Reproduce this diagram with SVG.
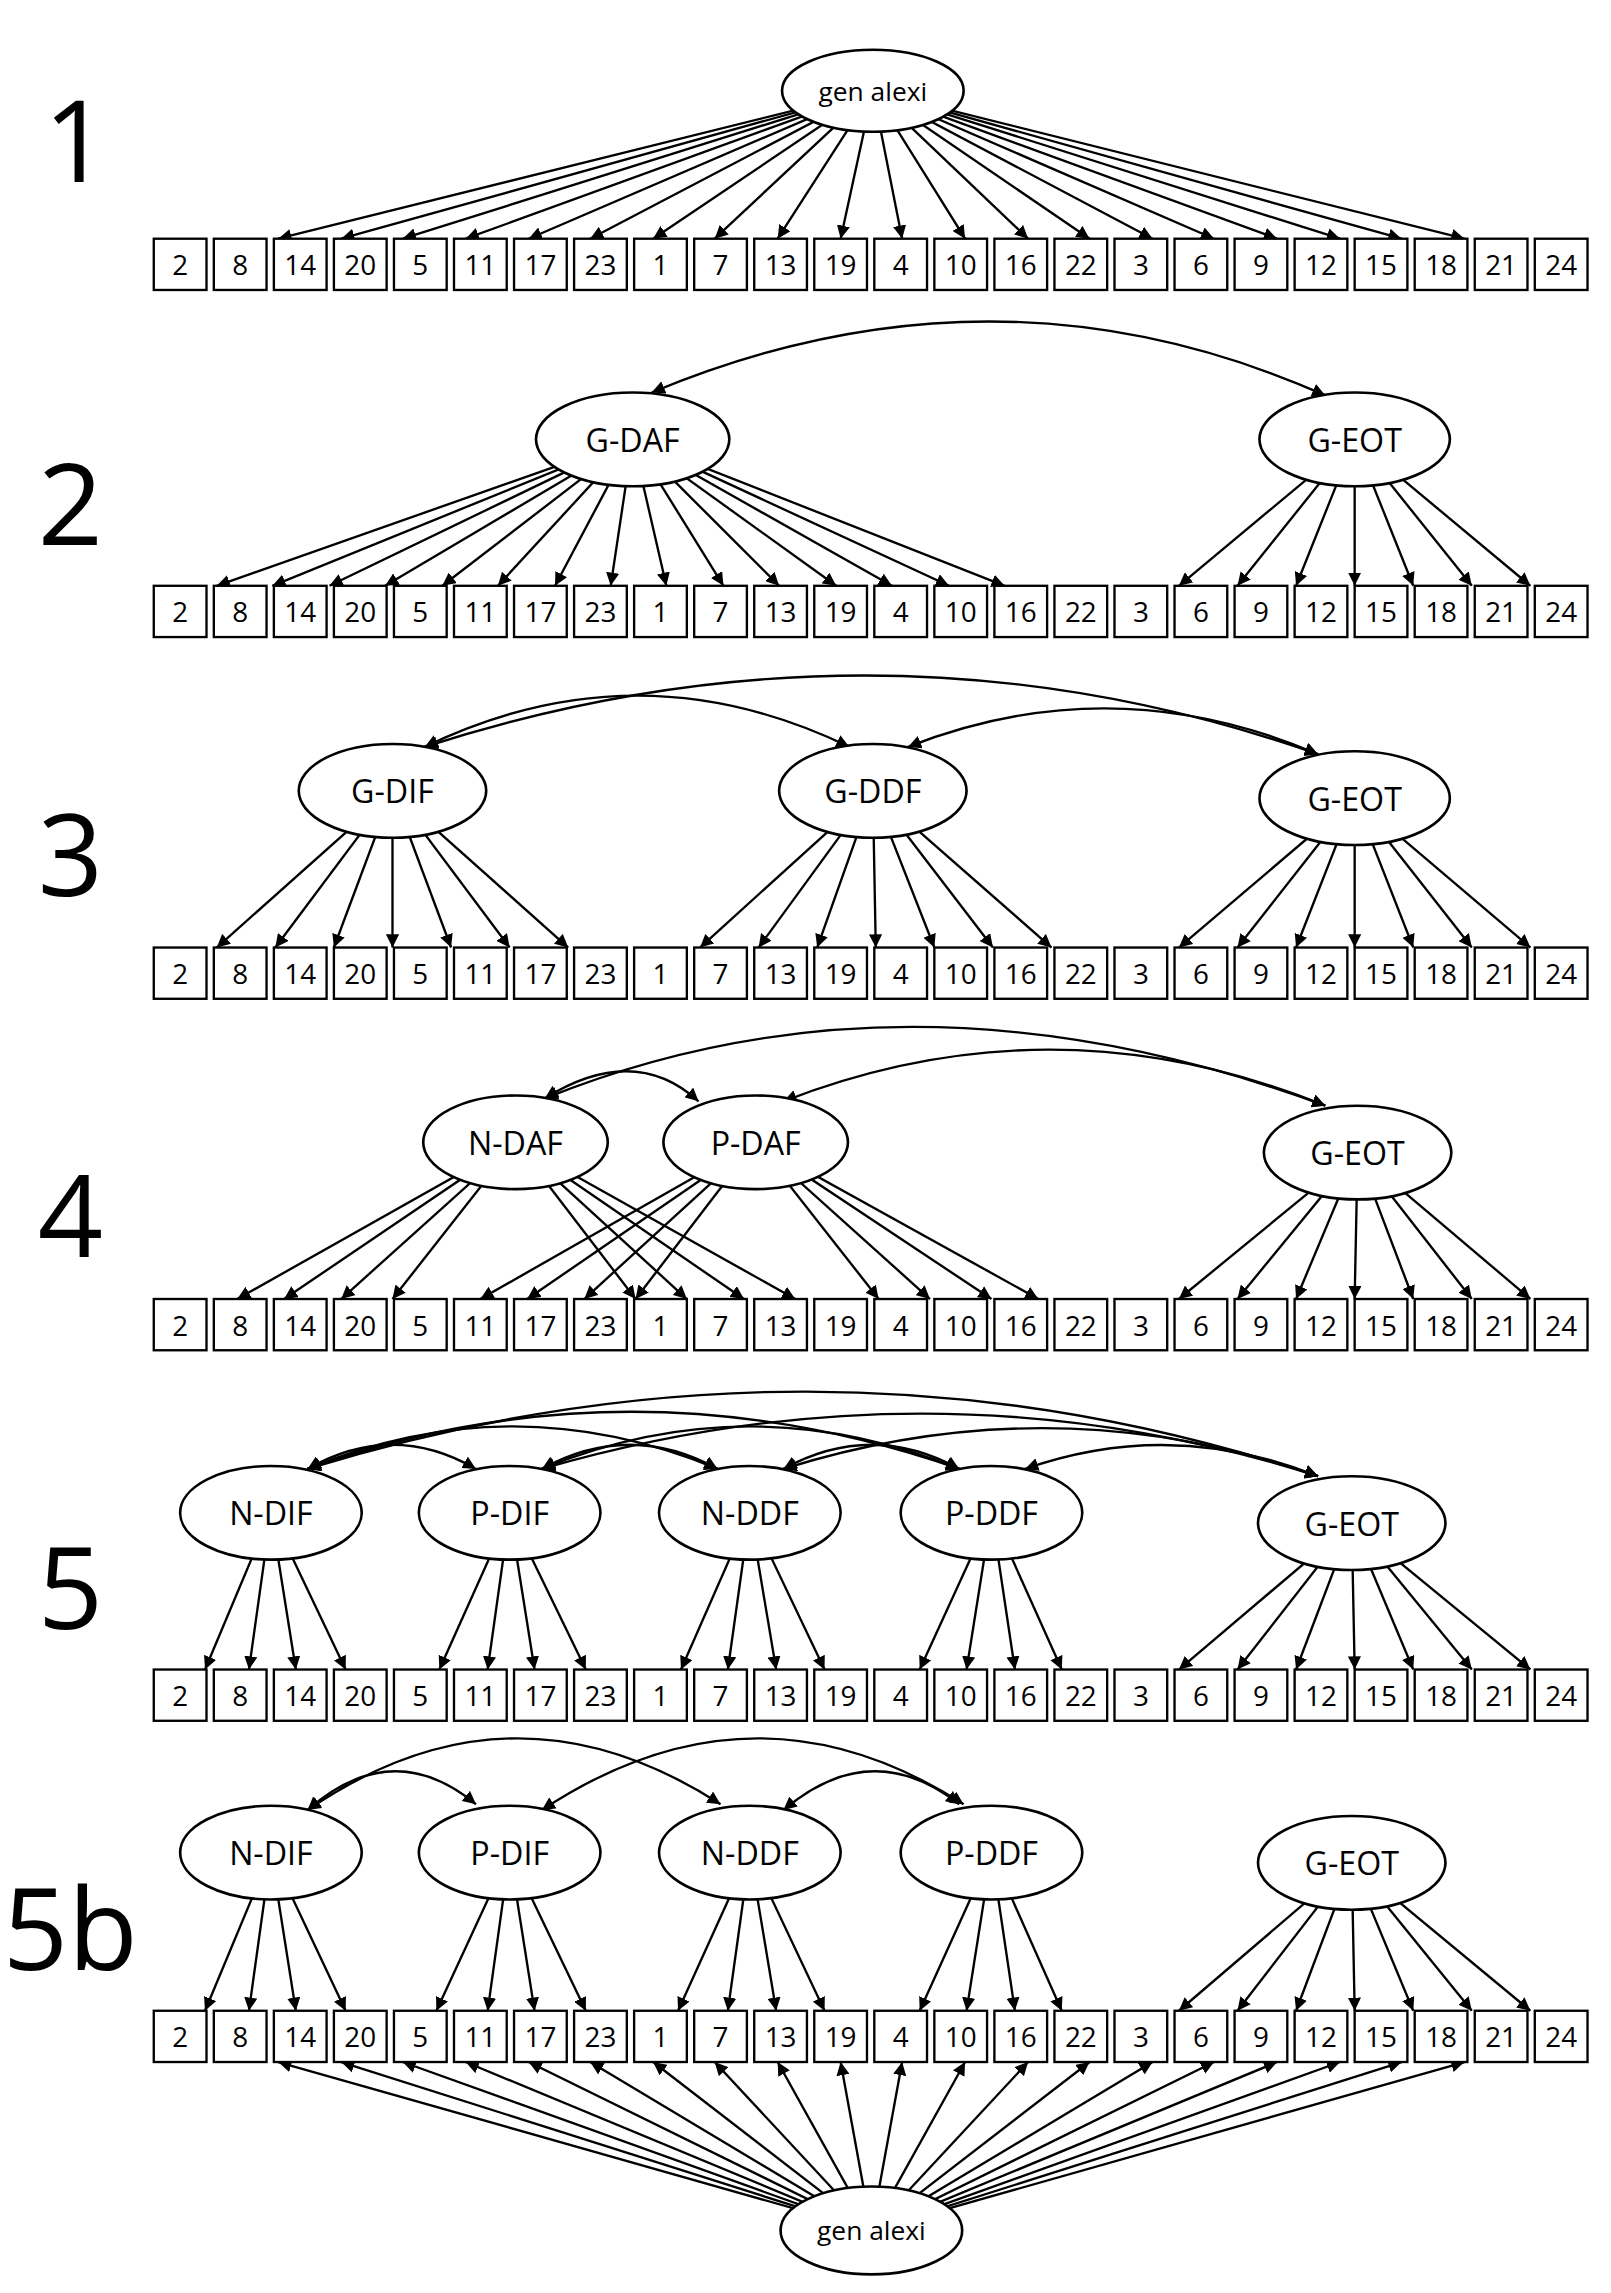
<svg xmlns="http://www.w3.org/2000/svg" width="1611" height="2293" viewBox="0 0 1611 2293">
<defs>
<marker id="ah" viewBox="0 0 10 10" refX="10" refY="5" markerWidth="9" markerHeight="9" markerUnits="userSpaceOnUse" orient="auto-start-reverse"><path d="M0,0 L10,5 L0,10 z" fill="#000"/></marker>
</defs>
<style>
.c line,.c path{stroke:#000;stroke-width:1.6;fill:none;marker-end:url(#ah)}
.c path{marker-start:url(#ah)}
.n ellipse{fill:#fff;stroke:#000;stroke-width:1.8}
.n rect{fill:#fff;stroke:#000;stroke-width:1.6}
.n text{font-family:"Open Sans","Liberation Sans",sans-serif;text-anchor:middle;dominant-baseline:central;fill:#000}
.b{font-size:19px}.e{font-size:22px}.g{font-size:18px}
.big{font-family:"Open Sans","Liberation Sans",sans-serif;font-size:78px;fill:#000;text-anchor:middle}
</style>
<rect width="1611" height="2293" fill="#fff"/>
<g transform="scale(1.4645)">
<text class="big" x="52" y="124">1</text>
<text class="big" x="48" y="372">2</text>
<text class="big" x="48" y="612">3</text>
<text class="big" x="48" y="858">4</text>
<text class="big" x="48" y="1112">5</text>
<text class="big" x="48" y="1345">5b</text>
<g id="connectors" class="c">
<!-- row1 -->
<line x1="596" y1="62" x2="190" y2="163"/><line x1="596" y1="62" x2="233" y2="163"/><line x1="596" y1="62" x2="275" y2="163"/><line x1="596" y1="62" x2="318" y2="163"/><line x1="596" y1="62" x2="361" y2="163"/><line x1="596" y1="62" x2="403" y2="163"/><line x1="596" y1="62" x2="446" y2="163"/><line x1="596" y1="62" x2="488" y2="163"/><line x1="596" y1="62" x2="531" y2="163"/><line x1="596" y1="62" x2="574" y2="163"/><line x1="596" y1="62" x2="616" y2="163"/><line x1="596" y1="62" x2="659" y2="163"/><line x1="596" y1="62" x2="702" y2="163"/><line x1="596" y1="62" x2="744" y2="163"/><line x1="596" y1="62" x2="787" y2="163"/><line x1="596" y1="62" x2="829" y2="163"/><line x1="596" y1="62" x2="872" y2="163"/><line x1="596" y1="62" x2="915" y2="163"/><line x1="596" y1="62" x2="957" y2="163"/><line x1="596" y1="62" x2="1000" y2="163"/>
<!-- row2 -->
<line x1="432" y1="300" x2="148" y2="400"/><line x1="432" y1="300" x2="186" y2="400"/><line x1="432" y1="300" x2="225" y2="400"/><line x1="432" y1="300" x2="263" y2="400"/><line x1="432" y1="300" x2="302" y2="400"/><line x1="432" y1="300" x2="340" y2="400"/><line x1="432" y1="300" x2="379" y2="400"/><line x1="432" y1="300" x2="417" y2="400"/><line x1="432" y1="300" x2="455" y2="400"/><line x1="432" y1="300" x2="494" y2="400"/><line x1="432" y1="300" x2="532" y2="400"/><line x1="432" y1="300" x2="571" y2="400"/><line x1="432" y1="300" x2="609" y2="400"/><line x1="432" y1="300" x2="648" y2="400"/><line x1="432" y1="300" x2="686" y2="400"/>
<line x1="925" y1="300" x2="805" y2="400"/><line x1="925" y1="300" x2="845" y2="400"/><line x1="925" y1="300" x2="885" y2="400"/><line x1="925" y1="300" x2="925" y2="400"/><line x1="925" y1="300" x2="965" y2="400"/><line x1="925" y1="300" x2="1005" y2="400"/><line x1="925" y1="300" x2="1045" y2="400"/>
<path d="M445,268 Q680,170 905,270"/>
<!-- row3 -->
<line x1="268" y1="540" x2="148" y2="647"/><line x1="268" y1="540" x2="188" y2="647"/><line x1="268" y1="540" x2="228" y2="647"/><line x1="268" y1="540" x2="268" y2="647"/><line x1="268" y1="540" x2="308" y2="647"/><line x1="268" y1="540" x2="348" y2="647"/><line x1="268" y1="540" x2="388" y2="647"/>
<line x1="596" y1="540" x2="478" y2="647"/><line x1="596" y1="540" x2="518" y2="647"/><line x1="596" y1="540" x2="558" y2="647"/><line x1="596" y1="540" x2="598" y2="647"/><line x1="596" y1="540" x2="638" y2="647"/><line x1="596" y1="540" x2="678" y2="647"/><line x1="596" y1="540" x2="718" y2="647"/>
<line x1="925" y1="545" x2="805" y2="647"/><line x1="925" y1="545" x2="845" y2="647"/><line x1="925" y1="545" x2="885" y2="647"/><line x1="925" y1="545" x2="925" y2="647"/><line x1="925" y1="545" x2="965" y2="647"/><line x1="925" y1="545" x2="1005" y2="647"/><line x1="925" y1="545" x2="1045" y2="647"/>
<path d="M290,510 Q435,440 580,510"/>
<path d="M290,510 Q600,410 900,515"/>
<path d="M620,510 Q760,455 900,515"/>
<!-- row4 -->
<line x1="352" y1="780" x2="162" y2="887"/><line x1="352" y1="780" x2="194" y2="887"/><line x1="352" y1="780" x2="233" y2="887"/><line x1="352" y1="780" x2="268" y2="887"/>
<line x1="352" y1="780" x2="434" y2="887"/><line x1="352" y1="780" x2="469" y2="887"/><line x1="352" y1="780" x2="508" y2="887"/><line x1="352" y1="780" x2="543" y2="887"/>
<line x1="516" y1="780" x2="328" y2="887"/><line x1="516" y1="780" x2="360" y2="887"/><line x1="516" y1="780" x2="399" y2="887"/><line x1="516" y1="780" x2="434" y2="887"/>
<line x1="516" y1="780" x2="600" y2="887"/><line x1="516" y1="780" x2="635" y2="887"/><line x1="516" y1="780" x2="677" y2="887"/><line x1="516" y1="780" x2="709" y2="887"/>
<line x1="927" y1="787" x2="805" y2="887"/><line x1="927" y1="787" x2="845" y2="887"/><line x1="927" y1="787" x2="885" y2="887"/><line x1="927" y1="787" x2="925" y2="887"/><line x1="927" y1="787" x2="965" y2="887"/><line x1="927" y1="787" x2="1005" y2="887"/><line x1="927" y1="787" x2="1045" y2="887"/>
<path d="M372,750 Q433,712 477,752"/>
<path d="M372,750 Q620,650 905,755"/>
<path d="M535,752 Q720,680 905,755"/>
<!-- row5 -->
<line x1="185" y1="1033" x2="140" y2="1140"/><line x1="185" y1="1033" x2="170" y2="1140"/><line x1="185" y1="1033" x2="202" y2="1140"/><line x1="185" y1="1033" x2="236" y2="1140"/>
<line x1="348" y1="1033" x2="300" y2="1140"/><line x1="348" y1="1033" x2="333" y2="1140"/><line x1="348" y1="1033" x2="365" y2="1140"/><line x1="348" y1="1033" x2="400" y2="1140"/>
<line x1="512" y1="1033" x2="465" y2="1140"/><line x1="512" y1="1033" x2="497" y2="1140"/><line x1="512" y1="1033" x2="530" y2="1140"/><line x1="512" y1="1033" x2="563" y2="1140"/>
<line x1="677" y1="1033" x2="628" y2="1140"/><line x1="677" y1="1033" x2="660" y2="1140"/><line x1="677" y1="1033" x2="693" y2="1140"/><line x1="677" y1="1033" x2="725" y2="1140"/>
<line x1="923" y1="1040" x2="805" y2="1140"/><line x1="923" y1="1040" x2="845" y2="1140"/><line x1="923" y1="1040" x2="885" y2="1140"/><line x1="923" y1="1040" x2="925" y2="1140"/><line x1="923" y1="1040" x2="965" y2="1140"/><line x1="923" y1="1040" x2="1005" y2="1140"/><line x1="923" y1="1040" x2="1045" y2="1140"/>
<path d="M210,1003 Q268,970 325,1003"/>
<path d="M210,1003 Q350,945 490,1003"/>
<path d="M210,1003 Q430,925 655,1003"/>
<path d="M210,1003 Q560,895 900,1008"/>
<path d="M370,1003 Q430,970 490,1003"/>
<path d="M370,1003 Q512,945 655,1003"/>
<path d="M370,1003 Q640,925 900,1008"/>
<path d="M535,1003 Q595,970 655,1003"/>
<path d="M535,1003 Q720,945 900,1008"/>
<path d="M700,1003 Q800,968 900,1008"/>
<!-- row5b -->
<line x1="185" y1="1265" x2="140" y2="1373"/><line x1="185" y1="1265" x2="170" y2="1373"/><line x1="185" y1="1265" x2="202" y2="1373"/><line x1="185" y1="1265" x2="236" y2="1373"/>
<line x1="348" y1="1265" x2="298" y2="1373"/><line x1="348" y1="1265" x2="333" y2="1373"/><line x1="348" y1="1265" x2="365" y2="1373"/><line x1="348" y1="1265" x2="400" y2="1373"/>
<line x1="512" y1="1265" x2="463" y2="1373"/><line x1="512" y1="1265" x2="497" y2="1373"/><line x1="512" y1="1265" x2="530" y2="1373"/><line x1="512" y1="1265" x2="563" y2="1373"/>
<line x1="677" y1="1265" x2="628" y2="1373"/><line x1="677" y1="1265" x2="660" y2="1373"/><line x1="677" y1="1265" x2="693" y2="1373"/><line x1="677" y1="1265" x2="725" y2="1373"/>
<line x1="923" y1="1272" x2="805" y2="1373"/><line x1="923" y1="1272" x2="845" y2="1373"/><line x1="923" y1="1272" x2="885" y2="1373"/><line x1="923" y1="1272" x2="925" y2="1373"/><line x1="923" y1="1272" x2="965" y2="1373"/><line x1="923" y1="1272" x2="1005" y2="1373"/><line x1="923" y1="1272" x2="1045" y2="1373"/>
<path d="M210,1236 Q268,1185 325,1232"/>
<path d="M210,1236 Q350,1140 492,1232"/>
<path d="M370,1236 Q515,1140 658,1232"/>
<path d="M535,1236 Q595,1185 655,1232"/>
<line x1="595" y1="1523" x2="190" y2="1408"/><line x1="595" y1="1523" x2="233" y2="1408"/><line x1="595" y1="1523" x2="275" y2="1408"/><line x1="595" y1="1523" x2="318" y2="1408"/><line x1="595" y1="1523" x2="361" y2="1408"/><line x1="595" y1="1523" x2="403" y2="1408"/><line x1="595" y1="1523" x2="446" y2="1408"/><line x1="595" y1="1523" x2="488" y2="1408"/><line x1="595" y1="1523" x2="531" y2="1408"/><line x1="595" y1="1523" x2="574" y2="1408"/><line x1="595" y1="1523" x2="616" y2="1408"/><line x1="595" y1="1523" x2="659" y2="1408"/><line x1="595" y1="1523" x2="702" y2="1408"/><line x1="595" y1="1523" x2="744" y2="1408"/><line x1="595" y1="1523" x2="787" y2="1408"/><line x1="595" y1="1523" x2="829" y2="1408"/><line x1="595" y1="1523" x2="872" y2="1408"/><line x1="595" y1="1523" x2="915" y2="1408"/><line x1="595" y1="1523" x2="957" y2="1408"/><line x1="595" y1="1523" x2="1000" y2="1408"/>
</g>
<g class="n">
<g id="gen1"><ellipse cx="596" cy="62" rx="62" ry="28"/><text class="g" x="596" y="62">gen alexi</text></g>
<g id="r2-gdaf"><ellipse cx="432" cy="300" rx="66" ry="32"/><text class="e" x="432" y="300">G-DAF</text></g>
<g id="r2-geot"><ellipse cx="925" cy="300" rx="65" ry="32"/><text class="e" x="925" y="300">G-EOT</text></g>
<g id="r3-gdif"><ellipse cx="268" cy="540" rx="64" ry="32"/><text class="e" x="268" y="540">G-DIF</text></g>
<g id="r3-gddf"><ellipse cx="596" cy="540" rx="64" ry="32"/><text class="e" x="596" y="540">G-DDF</text></g>
<g id="r3-geot"><ellipse cx="925" cy="545" rx="65" ry="32"/><text class="e" x="925" y="545">G-EOT</text></g>
<g id="r4-ndaf"><ellipse cx="352" cy="780" rx="63" ry="32"/><text class="e" x="352" y="780">N-DAF</text></g>
<g id="r4-pdaf"><ellipse cx="516" cy="780" rx="63" ry="32"/><text class="e" x="516" y="780">P-DAF</text></g>
<g id="r4-geot"><ellipse cx="927" cy="787" rx="64" ry="32"/><text class="e" x="927" y="787">G-EOT</text></g>
<g id="r5-ndif"><ellipse cx="185" cy="1033" rx="62" ry="32"/><text class="e" x="185" y="1033">N-DIF</text></g>
<g id="r5-pdif"><ellipse cx="348" cy="1033" rx="62" ry="32"/><text class="e" x="348" y="1033">P-DIF</text></g>
<g id="r5-nddf"><ellipse cx="512" cy="1033" rx="62" ry="32"/><text class="e" x="512" y="1033">N-DDF</text></g>
<g id="r5-pddf"><ellipse cx="677" cy="1033" rx="62" ry="32"/><text class="e" x="677" y="1033">P-DDF</text></g>
<g id="r5-geot"><ellipse cx="923" cy="1040" rx="64" ry="32"/><text class="e" x="923" y="1040">G-EOT</text></g>
<g id="r5b-ndif"><ellipse cx="185" cy="1265" rx="62" ry="32"/><text class="e" x="185" y="1265">N-DIF</text></g>
<g id="r5b-pdif"><ellipse cx="348" cy="1265" rx="62" ry="32"/><text class="e" x="348" y="1265">P-DIF</text></g>
<g id="r5b-nddf"><ellipse cx="512" cy="1265" rx="62" ry="32"/><text class="e" x="512" y="1265">N-DDF</text></g>
<g id="r5b-pddf"><ellipse cx="677" cy="1265" rx="62" ry="32"/><text class="e" x="677" y="1265">P-DDF</text></g>
<g id="r5b-geot"><ellipse cx="923" cy="1272" rx="64" ry="32"/><text class="e" x="923" y="1272">G-EOT</text></g>
<g id="gen2"><ellipse cx="595" cy="1523" rx="62" ry="30"/><text class="g" x="595" y="1523">gen alexi</text></g>
</g>
<g class="n" id="boxes">
<g id="row1"><rect x="105" y="163" width="36" height="35"/><text class="b" x="123" y="180.5">2</text><rect x="146" y="163" width="36" height="35"/><text class="b" x="164" y="180.5">8</text><rect x="187" y="163" width="36" height="35"/><text class="b" x="205" y="180.5">14</text><rect x="228" y="163" width="36" height="35"/><text class="b" x="246" y="180.5">20</text><rect x="269" y="163" width="36" height="35"/><text class="b" x="287" y="180.5">5</text><rect x="310" y="163" width="36" height="35"/><text class="b" x="328" y="180.5">11</text><rect x="351" y="163" width="36" height="35"/><text class="b" x="369" y="180.5">17</text><rect x="392" y="163" width="36" height="35"/><text class="b" x="410" y="180.5">23</text><rect x="433" y="163" width="36" height="35"/><text class="b" x="451" y="180.5">1</text><rect x="474" y="163" width="36" height="35"/><text class="b" x="492" y="180.5">7</text><rect x="515" y="163" width="36" height="35"/><text class="b" x="533" y="180.5">13</text><rect x="556" y="163" width="36" height="35"/><text class="b" x="574" y="180.5">19</text><rect x="597" y="163" width="36" height="35"/><text class="b" x="615" y="180.5">4</text><rect x="638" y="163" width="36" height="35"/><text class="b" x="656" y="180.5">10</text><rect x="679" y="163" width="36" height="35"/><text class="b" x="697" y="180.5">16</text><rect x="720" y="163" width="36" height="35"/><text class="b" x="738" y="180.5">22</text><rect x="761" y="163" width="36" height="35"/><text class="b" x="779" y="180.5">3</text><rect x="802" y="163" width="36" height="35"/><text class="b" x="820" y="180.5">6</text><rect x="843" y="163" width="36" height="35"/><text class="b" x="861" y="180.5">9</text><rect x="884" y="163" width="36" height="35"/><text class="b" x="902" y="180.5">12</text><rect x="925" y="163" width="36" height="35"/><text class="b" x="943" y="180.5">15</text><rect x="966" y="163" width="36" height="35"/><text class="b" x="984" y="180.5">18</text><rect x="1007" y="163" width="36" height="35"/><text class="b" x="1025" y="180.5">21</text><rect x="1048" y="163" width="36" height="35"/><text class="b" x="1066" y="180.5">24</text></g>
<g id="row2"><rect x="105" y="400" width="36" height="35"/><text class="b" x="123" y="417.5">2</text><rect x="146" y="400" width="36" height="35"/><text class="b" x="164" y="417.5">8</text><rect x="187" y="400" width="36" height="35"/><text class="b" x="205" y="417.5">14</text><rect x="228" y="400" width="36" height="35"/><text class="b" x="246" y="417.5">20</text><rect x="269" y="400" width="36" height="35"/><text class="b" x="287" y="417.5">5</text><rect x="310" y="400" width="36" height="35"/><text class="b" x="328" y="417.5">11</text><rect x="351" y="400" width="36" height="35"/><text class="b" x="369" y="417.5">17</text><rect x="392" y="400" width="36" height="35"/><text class="b" x="410" y="417.5">23</text><rect x="433" y="400" width="36" height="35"/><text class="b" x="451" y="417.5">1</text><rect x="474" y="400" width="36" height="35"/><text class="b" x="492" y="417.5">7</text><rect x="515" y="400" width="36" height="35"/><text class="b" x="533" y="417.5">13</text><rect x="556" y="400" width="36" height="35"/><text class="b" x="574" y="417.5">19</text><rect x="597" y="400" width="36" height="35"/><text class="b" x="615" y="417.5">4</text><rect x="638" y="400" width="36" height="35"/><text class="b" x="656" y="417.5">10</text><rect x="679" y="400" width="36" height="35"/><text class="b" x="697" y="417.5">16</text><rect x="720" y="400" width="36" height="35"/><text class="b" x="738" y="417.5">22</text><rect x="761" y="400" width="36" height="35"/><text class="b" x="779" y="417.5">3</text><rect x="802" y="400" width="36" height="35"/><text class="b" x="820" y="417.5">6</text><rect x="843" y="400" width="36" height="35"/><text class="b" x="861" y="417.5">9</text><rect x="884" y="400" width="36" height="35"/><text class="b" x="902" y="417.5">12</text><rect x="925" y="400" width="36" height="35"/><text class="b" x="943" y="417.5">15</text><rect x="966" y="400" width="36" height="35"/><text class="b" x="984" y="417.5">18</text><rect x="1007" y="400" width="36" height="35"/><text class="b" x="1025" y="417.5">21</text><rect x="1048" y="400" width="36" height="35"/><text class="b" x="1066" y="417.5">24</text></g>
<g id="row3"><rect x="105" y="647" width="36" height="35"/><text class="b" x="123" y="664.5">2</text><rect x="146" y="647" width="36" height="35"/><text class="b" x="164" y="664.5">8</text><rect x="187" y="647" width="36" height="35"/><text class="b" x="205" y="664.5">14</text><rect x="228" y="647" width="36" height="35"/><text class="b" x="246" y="664.5">20</text><rect x="269" y="647" width="36" height="35"/><text class="b" x="287" y="664.5">5</text><rect x="310" y="647" width="36" height="35"/><text class="b" x="328" y="664.5">11</text><rect x="351" y="647" width="36" height="35"/><text class="b" x="369" y="664.5">17</text><rect x="392" y="647" width="36" height="35"/><text class="b" x="410" y="664.5">23</text><rect x="433" y="647" width="36" height="35"/><text class="b" x="451" y="664.5">1</text><rect x="474" y="647" width="36" height="35"/><text class="b" x="492" y="664.5">7</text><rect x="515" y="647" width="36" height="35"/><text class="b" x="533" y="664.5">13</text><rect x="556" y="647" width="36" height="35"/><text class="b" x="574" y="664.5">19</text><rect x="597" y="647" width="36" height="35"/><text class="b" x="615" y="664.5">4</text><rect x="638" y="647" width="36" height="35"/><text class="b" x="656" y="664.5">10</text><rect x="679" y="647" width="36" height="35"/><text class="b" x="697" y="664.5">16</text><rect x="720" y="647" width="36" height="35"/><text class="b" x="738" y="664.5">22</text><rect x="761" y="647" width="36" height="35"/><text class="b" x="779" y="664.5">3</text><rect x="802" y="647" width="36" height="35"/><text class="b" x="820" y="664.5">6</text><rect x="843" y="647" width="36" height="35"/><text class="b" x="861" y="664.5">9</text><rect x="884" y="647" width="36" height="35"/><text class="b" x="902" y="664.5">12</text><rect x="925" y="647" width="36" height="35"/><text class="b" x="943" y="664.5">15</text><rect x="966" y="647" width="36" height="35"/><text class="b" x="984" y="664.5">18</text><rect x="1007" y="647" width="36" height="35"/><text class="b" x="1025" y="664.5">21</text><rect x="1048" y="647" width="36" height="35"/><text class="b" x="1066" y="664.5">24</text></g>
<g id="row4"><rect x="105" y="887" width="36" height="35"/><text class="b" x="123" y="904.5">2</text><rect x="146" y="887" width="36" height="35"/><text class="b" x="164" y="904.5">8</text><rect x="187" y="887" width="36" height="35"/><text class="b" x="205" y="904.5">14</text><rect x="228" y="887" width="36" height="35"/><text class="b" x="246" y="904.5">20</text><rect x="269" y="887" width="36" height="35"/><text class="b" x="287" y="904.5">5</text><rect x="310" y="887" width="36" height="35"/><text class="b" x="328" y="904.5">11</text><rect x="351" y="887" width="36" height="35"/><text class="b" x="369" y="904.5">17</text><rect x="392" y="887" width="36" height="35"/><text class="b" x="410" y="904.5">23</text><rect x="433" y="887" width="36" height="35"/><text class="b" x="451" y="904.5">1</text><rect x="474" y="887" width="36" height="35"/><text class="b" x="492" y="904.5">7</text><rect x="515" y="887" width="36" height="35"/><text class="b" x="533" y="904.5">13</text><rect x="556" y="887" width="36" height="35"/><text class="b" x="574" y="904.5">19</text><rect x="597" y="887" width="36" height="35"/><text class="b" x="615" y="904.5">4</text><rect x="638" y="887" width="36" height="35"/><text class="b" x="656" y="904.5">10</text><rect x="679" y="887" width="36" height="35"/><text class="b" x="697" y="904.5">16</text><rect x="720" y="887" width="36" height="35"/><text class="b" x="738" y="904.5">22</text><rect x="761" y="887" width="36" height="35"/><text class="b" x="779" y="904.5">3</text><rect x="802" y="887" width="36" height="35"/><text class="b" x="820" y="904.5">6</text><rect x="843" y="887" width="36" height="35"/><text class="b" x="861" y="904.5">9</text><rect x="884" y="887" width="36" height="35"/><text class="b" x="902" y="904.5">12</text><rect x="925" y="887" width="36" height="35"/><text class="b" x="943" y="904.5">15</text><rect x="966" y="887" width="36" height="35"/><text class="b" x="984" y="904.5">18</text><rect x="1007" y="887" width="36" height="35"/><text class="b" x="1025" y="904.5">21</text><rect x="1048" y="887" width="36" height="35"/><text class="b" x="1066" y="904.5">24</text></g>
<g id="row5"><rect x="105" y="1140" width="36" height="35"/><text class="b" x="123" y="1157.5">2</text><rect x="146" y="1140" width="36" height="35"/><text class="b" x="164" y="1157.5">8</text><rect x="187" y="1140" width="36" height="35"/><text class="b" x="205" y="1157.5">14</text><rect x="228" y="1140" width="36" height="35"/><text class="b" x="246" y="1157.5">20</text><rect x="269" y="1140" width="36" height="35"/><text class="b" x="287" y="1157.5">5</text><rect x="310" y="1140" width="36" height="35"/><text class="b" x="328" y="1157.5">11</text><rect x="351" y="1140" width="36" height="35"/><text class="b" x="369" y="1157.5">17</text><rect x="392" y="1140" width="36" height="35"/><text class="b" x="410" y="1157.5">23</text><rect x="433" y="1140" width="36" height="35"/><text class="b" x="451" y="1157.5">1</text><rect x="474" y="1140" width="36" height="35"/><text class="b" x="492" y="1157.5">7</text><rect x="515" y="1140" width="36" height="35"/><text class="b" x="533" y="1157.5">13</text><rect x="556" y="1140" width="36" height="35"/><text class="b" x="574" y="1157.5">19</text><rect x="597" y="1140" width="36" height="35"/><text class="b" x="615" y="1157.5">4</text><rect x="638" y="1140" width="36" height="35"/><text class="b" x="656" y="1157.5">10</text><rect x="679" y="1140" width="36" height="35"/><text class="b" x="697" y="1157.5">16</text><rect x="720" y="1140" width="36" height="35"/><text class="b" x="738" y="1157.5">22</text><rect x="761" y="1140" width="36" height="35"/><text class="b" x="779" y="1157.5">3</text><rect x="802" y="1140" width="36" height="35"/><text class="b" x="820" y="1157.5">6</text><rect x="843" y="1140" width="36" height="35"/><text class="b" x="861" y="1157.5">9</text><rect x="884" y="1140" width="36" height="35"/><text class="b" x="902" y="1157.5">12</text><rect x="925" y="1140" width="36" height="35"/><text class="b" x="943" y="1157.5">15</text><rect x="966" y="1140" width="36" height="35"/><text class="b" x="984" y="1157.5">18</text><rect x="1007" y="1140" width="36" height="35"/><text class="b" x="1025" y="1157.5">21</text><rect x="1048" y="1140" width="36" height="35"/><text class="b" x="1066" y="1157.5">24</text></g>
<g id="row5b"><rect x="105" y="1373" width="36" height="35"/><text class="b" x="123" y="1390.5">2</text><rect x="146" y="1373" width="36" height="35"/><text class="b" x="164" y="1390.5">8</text><rect x="187" y="1373" width="36" height="35"/><text class="b" x="205" y="1390.5">14</text><rect x="228" y="1373" width="36" height="35"/><text class="b" x="246" y="1390.5">20</text><rect x="269" y="1373" width="36" height="35"/><text class="b" x="287" y="1390.5">5</text><rect x="310" y="1373" width="36" height="35"/><text class="b" x="328" y="1390.5">11</text><rect x="351" y="1373" width="36" height="35"/><text class="b" x="369" y="1390.5">17</text><rect x="392" y="1373" width="36" height="35"/><text class="b" x="410" y="1390.5">23</text><rect x="433" y="1373" width="36" height="35"/><text class="b" x="451" y="1390.5">1</text><rect x="474" y="1373" width="36" height="35"/><text class="b" x="492" y="1390.5">7</text><rect x="515" y="1373" width="36" height="35"/><text class="b" x="533" y="1390.5">13</text><rect x="556" y="1373" width="36" height="35"/><text class="b" x="574" y="1390.5">19</text><rect x="597" y="1373" width="36" height="35"/><text class="b" x="615" y="1390.5">4</text><rect x="638" y="1373" width="36" height="35"/><text class="b" x="656" y="1390.5">10</text><rect x="679" y="1373" width="36" height="35"/><text class="b" x="697" y="1390.5">16</text><rect x="720" y="1373" width="36" height="35"/><text class="b" x="738" y="1390.5">22</text><rect x="761" y="1373" width="36" height="35"/><text class="b" x="779" y="1390.5">3</text><rect x="802" y="1373" width="36" height="35"/><text class="b" x="820" y="1390.5">6</text><rect x="843" y="1373" width="36" height="35"/><text class="b" x="861" y="1390.5">9</text><rect x="884" y="1373" width="36" height="35"/><text class="b" x="902" y="1390.5">12</text><rect x="925" y="1373" width="36" height="35"/><text class="b" x="943" y="1390.5">15</text><rect x="966" y="1373" width="36" height="35"/><text class="b" x="984" y="1390.5">18</text><rect x="1007" y="1373" width="36" height="35"/><text class="b" x="1025" y="1390.5">21</text><rect x="1048" y="1373" width="36" height="35"/><text class="b" x="1066" y="1390.5">24</text></g>
</g>
</g>
</svg>
